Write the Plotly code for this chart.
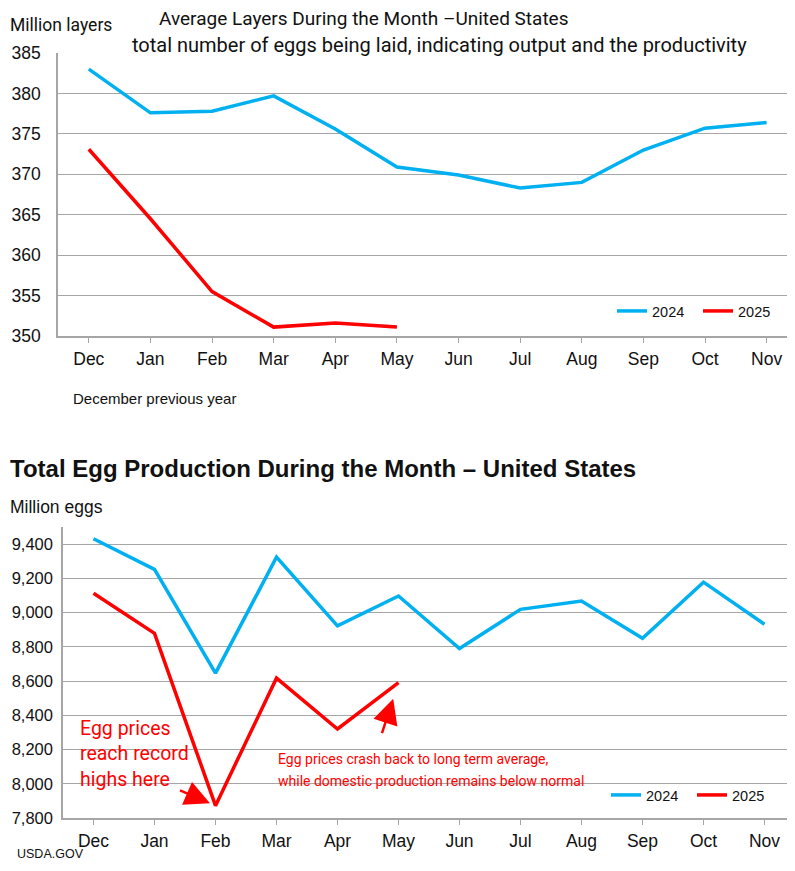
import plotly.graph_objects as go

# the page adds an 8px body margin, so the figure is drawn 16px smaller and
# reference pixel positions are shifted by 8 before being turned into paper units
W, H = 787, 855
OFF = 8

months = ["Dec", "Jan", "Feb", "Mar", "Apr", "May", "Jun", "Jul", "Aug", "Sep", "Oct", "Nov"]

layers_2024 = [383.0, 377.6, 377.8, 379.7, 375.6, 370.9, 369.9, 368.3, 369.0, 373.0, 375.7, 376.4]
layers_2025 = [373.1, 364.5, 355.5, 351.1, 351.6, 351.1]

eggs_2024 = [9431, 9252, 8646, 9324, 8922, 9097, 8790, 9019, 9068, 8850, 9178, 8932]
eggs_2025 = [9113, 8879, 7872, 8617, 8320, 8591]

layer_ticks = [350, 355, 360, 365, 370, 375, 380, 385]
egg_ticks = [7800, 8000, 8200, 8400, 8600, 8800, 9000, 9200, 9400]

BLUE = "#00B0F0"
RED = "#FF0000"
GRID = "#a6a6a6"
INK = "#111111"
SANS = "Liberation Sans, Arial, sans-serif"
ROBOTO = "Roboto, sans-serif"


def px(x):
    return (x - OFF) / W


def py(y):
    return 1 - (y - OFF) / H


fig = go.Figure()

fig.add_trace(go.Scatter(x=months, y=layers_2024, name="2024", mode="lines",
                         line=dict(color=BLUE, width=3.5), xaxis="x", yaxis="y", legend="legend"))
fig.add_trace(go.Scatter(x=months[:len(layers_2025)], y=layers_2025, name="2025", mode="lines",
                         line=dict(color=RED, width=3.5), xaxis="x", yaxis="y", legend="legend"))
fig.add_trace(go.Scatter(x=months, y=eggs_2024, name="2024", mode="lines",
                         line=dict(color=BLUE, width=3.5), xaxis="x2", yaxis="y2", legend="legend2"))
fig.add_trace(go.Scatter(x=months[:len(eggs_2025)], y=eggs_2025, name="2025", mode="lines",
                         line=dict(color=RED, width=3.5), xaxis="x2", yaxis="y2", legend="legend2"))

xcommon = dict(type="category", categoryorder="array", categoryarray=months, automargin=False,
               showgrid=False, showline=True, linecolor=GRID, linewidth=1.5,
               ticks="outside", ticklen=5, tickcolor=GRID, ticklabelstandoff=1,
               tickfont=dict(family=SANS, size=17.5, color=INK), zeroline=False, fixedrange=True)
ycommon = dict(showgrid=True, gridcolor=GRID, gridwidth=1, showline=True, linecolor=GRID,
               linewidth=1.5, ticks="", zeroline=False, fixedrange=True, automargin=False)
legcommon = dict(orientation="h", xanchor="left", yanchor="middle",
                 font=dict(family=SANS, size=14.5, color=INK), bgcolor="rgba(0,0,0,0)",
                 entrywidth=41, entrywidthmode="pixels")

fig.update_layout(
    width=W, height=H,
    margin=dict(l=0, r=0, t=0, b=0, autoexpand=False),
    paper_bgcolor="white", plot_bgcolor="white",
    xaxis=dict(domain=[px(58), 1], anchor="y", range=[-0.5, 11.46], **xcommon),
    yaxis=dict(domain=[py(336), py(53)], anchor="x", range=[350, 385], tickvals=layer_ticks,
               ticklabelstandoff=12, tickfont=dict(family=SANS, size=17.5, color=INK), **ycommon),
    xaxis2=dict(domain=[px(63), 1], anchor="y2", range=[-0.5, 11.5], **xcommon),
    yaxis2=dict(domain=[py(818), py(527)], anchor="x2", range=[7800, 9500], tickvals=egg_ticks,
                tickformat=",d", ticklabelstandoff=5, tickfont=dict(family=SANS, size=16.5, color=INK),
                **ycommon),
    legend=dict(x=px(612), y=py(311), **legcommon),
    legend2=dict(x=px(606), y=py(795), **legcommon),
    showlegend=True,
)

texts = [
    dict(text="Million layers", x=px(8), y=py(25), font=dict(family=ROBOTO, size=17.5, color=INK)),
    dict(text="Average Layers During the Month –United States", x=px(157), y=py(18),
         font=dict(family=ROBOTO, size=19, color=INK)),
    dict(text="total number of eggs being laid, indicating output and the productivity", x=px(130), y=py(45),
         font=dict(family=ROBOTO, size=20, color=INK)),
    dict(text="December previous year", x=px(71), y=py(399), font=dict(family=SANS, size=15, color=INK)),
    dict(text="<b>Total Egg Production During the Month – United States</b>", x=px(8), y=py(468),
         font=dict(family=SANS, size=24, color=INK)),
    dict(text="Million eggs", x=px(8), y=py(507), font=dict(family=SANS, size=17.5, color=INK)),
    dict(text="USDA.GOV", x=px(15), y=py(854), font=dict(family=SANS, size=12.5, color=INK)),
    dict(text="Egg prices crash back to long term average,", x=px(276), y=py(759),
         font=dict(family=ROBOTO, size=14, color=RED)),
    dict(text="while domestic production remains below normal", x=px(276), y=py(781),
         font=dict(family=ROBOTO, size=14, color=RED)),
]
for t in texts:
    fig.add_annotation(xref="paper", yref="paper", xanchor="left", yanchor="middle",
                       showarrow=False, **t)

fig.add_annotation(xref="paper", yref="paper", x=px(78), y=py(715), xanchor="left", yanchor="top",
                   align="left", showarrow=False,
                   text="Egg prices<br>reach record<br>highs here",
                   font=dict(family=ROBOTO, size=19.5, color=RED))

# arrows pointing at the February low and the May rebound
fig.add_annotation(xref="x2", yref="y2", x=months[2], y=eggs_2025[2], ax=-37, ay=-16,
                   showarrow=True, arrowhead=2, arrowsize=2.0, arrowwidth=2.5, arrowcolor=RED,
                   standoff=6, text="")
fig.add_annotation(xref="x2", yref="y2", x=months[5], y=eggs_2025[5], ax=-17, ay=52,
                   showarrow=True, arrowhead=2, arrowsize=2.0, arrowwidth=2.5, arrowcolor=RED,
                   standoff=17, text="")

fig.write_html("out.html")
